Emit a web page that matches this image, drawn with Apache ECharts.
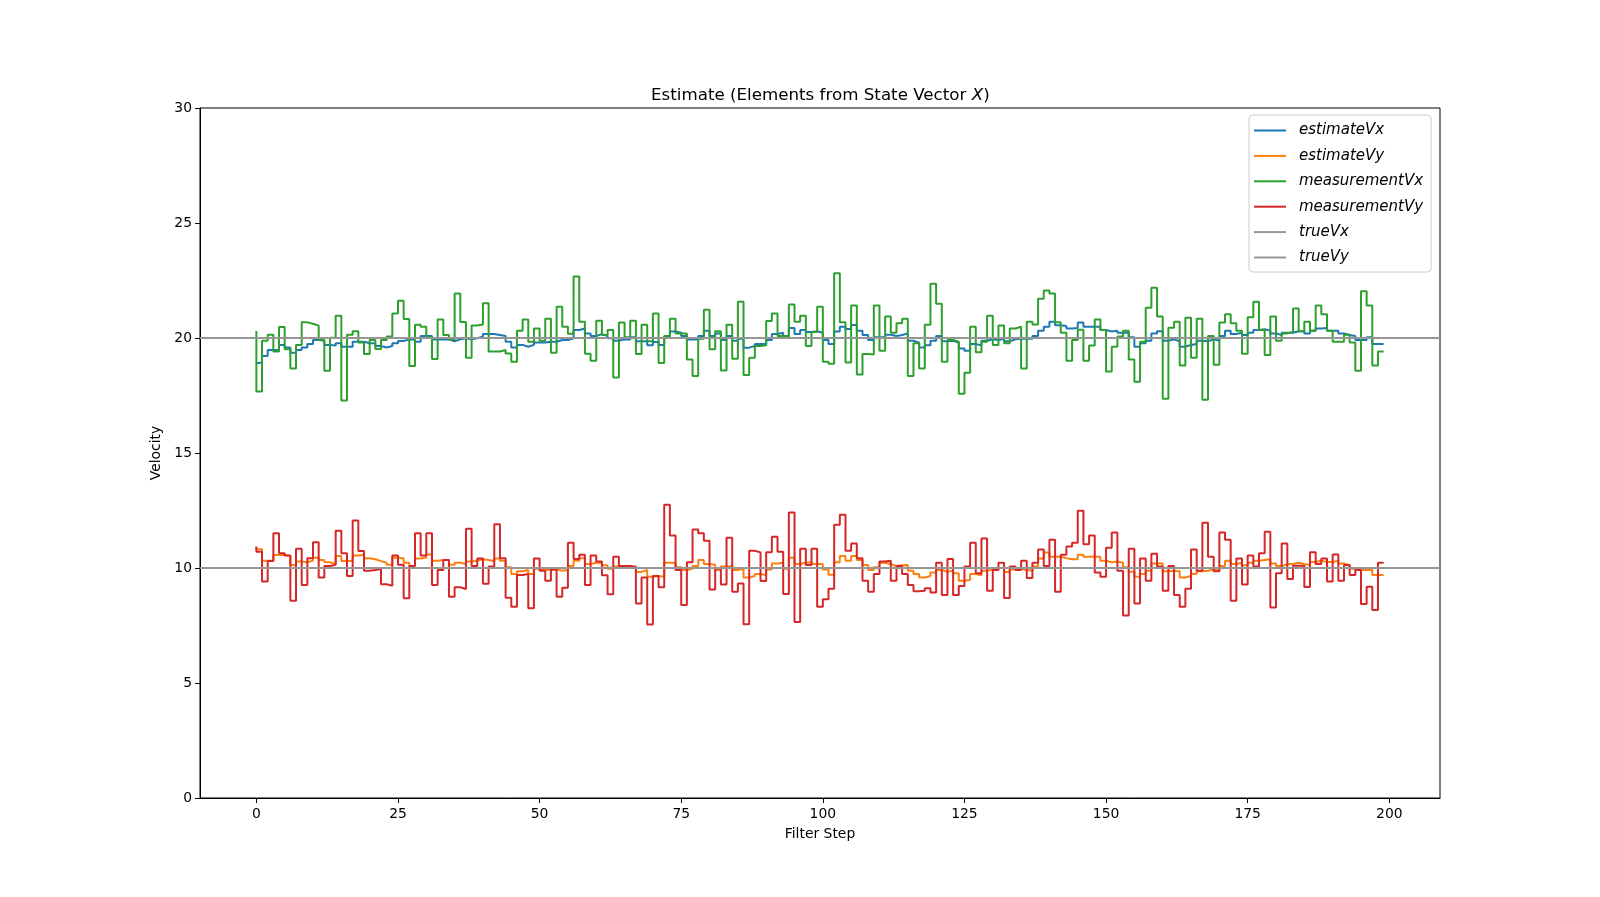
<!DOCTYPE html>
<html>
<head>
<meta charset="utf-8">
<script src="https://cdn.jsdelivr.net/npm/echarts@6/dist/echarts.min.js"></script>
<style>
  html, body { margin: 0; padding: 0; background: #fff; }
  #chart { width: 1600px; height: 897px; }
</style>
</head>
<body>
<div id="chart"></div>
<script>
// values, one per filter step (0..199)
const estimateVx = [18.9,
  18.93, 19.22, 19.48, 19.48, 19.70, 19.59, 19.36, 19.48, 19.59, 19.74,
  19.91, 19.88, 19.70, 19.67, 19.77, 19.62, 19.62, 19.84, 19.84, 19.77,
  19.77, 19.65, 19.59, 19.65, 19.77, 19.87, 19.94, 19.94, 19.84, 20.09,
  20.09, 19.94, 19.94, 19.94, 19.86, 19.94, 19.99, 19.94, 19.99, 20.07,
  20.17, 20.17, 20.13, 20.09, 19.84, 19.59, 19.70, 19.62, 19.70, 19.80,
  19.80, 19.84, 19.84, 19.91, 19.91, 19.99, 20.35, 20.41, 20.20, 20.09,
  20.17, 20.09, 19.99, 19.88, 19.94, 19.94, 20.03, 19.86, 19.86, 19.68,
  19.83, 19.70, 20.06, 20.28, 20.23, 20.09, 19.94, 19.94, 20.09, 20.32,
  20.09, 20.20, 19.91, 20.09, 19.88, 19.97, 19.58, 19.65, 19.74, 19.74,
  19.91, 20.17, 20.23, 20.09, 20.43, 20.17, 20.35, 20.26, 20.29, 20.23,
  19.91, 19.74, 20.28, 20.49, 20.39, 20.57, 20.32, 20.13, 19.91, 20.03,
  20.03, 20.14, 20.09, 20.13, 20.20, 19.88, 19.80, 19.59, 19.68, 19.88,
  20.09, 19.86, 19.88, 19.80, 19.54, 19.45, 19.74, 19.68, 19.88, 19.94,
  19.91, 19.97, 19.86, 19.94, 19.97, 19.97, 19.97, 20.09, 20.32, 20.49,
  20.71, 20.55, 20.52, 20.41, 20.43, 20.67, 20.49, 20.49, 20.49, 20.35,
  20.28, 20.32, 20.23, 20.23, 20.03, 19.62, 19.77, 19.88, 20.20, 20.29,
  19.88, 19.94, 19.86, 19.62, 19.70, 19.74, 19.88, 19.86, 19.94, 19.88,
  20.09, 20.32, 20.17, 20.23, 20.13, 20.23, 20.35, 20.38, 20.32, 20.20,
  20.13, 20.23, 20.23, 20.29, 20.29, 20.20, 20.32, 20.41, 20.43, 20.32,
  20.32, 20.20, 20.13, 20.09, 19.91, 19.91, 20.03, 19.74, 19.74];

const estimateVy = [10.9,
  10.81, 10.32, 10.32, 10.57, 10.57, 10.52, 10.13, 10.28, 10.25, 10.32,
  10.45, 10.35, 10.25, 10.17, 10.52, 10.30, 10.30, 10.54, 10.58, 10.42,
  10.38, 10.30, 10.23, 10.14, 10.45, 10.42, 10.23, 10.09, 10.41, 10.46,
  10.59, 10.32, 10.35, 10.35, 10.14, 10.23, 10.17, 10.28, 10.32, 10.38,
  10.35, 10.29, 10.41, 10.32, 10.03, 9.74, 9.86, 9.91, 9.74, 9.97,
  9.91, 9.91, 9.94, 9.88, 9.91, 10.09, 10.32, 10.42, 10.17, 10.23,
  10.23, 10.12, 9.97, 10.06, 10.03, 10.06, 10.03, 9.83, 9.91, 9.62,
  9.65, 9.62, 10.23, 10.23, 10.03, 9.91, 9.97, 10.09, 10.35, 10.17,
  10.14, 9.91, 10.06, 10.09, 9.91, 9.97, 9.59, 9.65, 9.74, 9.68,
  9.94, 10.20, 10.23, 9.97, 10.45, 10.17, 10.23, 10.26, 10.17, 10.17,
  9.94, 9.71, 10.25, 10.52, 10.32, 10.52, 10.35, 10.13, 9.91, 10.03,
  10.23, 10.17, 10.09, 10.12, 10.13, 9.88, 9.74, 9.59, 9.65, 9.80,
  9.91, 9.84, 9.88, 9.77, 9.45, 9.48, 9.74, 9.68, 9.88, 9.94,
  9.91, 10.00, 9.83, 9.94, 9.97, 9.91, 9.88, 10.06, 10.41, 10.67,
  10.49, 10.49, 10.43, 10.38, 10.38, 10.58, 10.49, 10.49, 10.49, 10.32,
  10.25, 10.28, 10.23, 10.03, 9.84, 9.62, 9.74, 9.88, 10.20, 10.20,
  9.86, 9.88, 9.86, 9.59, 9.65, 9.74, 9.86, 9.88, 9.94, 9.88,
  10.09, 10.32, 10.17, 10.23, 10.12, 10.23, 10.32, 10.35, 10.38, 10.20,
  10.09, 10.17, 10.17, 10.23, 10.17, 10.13, 10.26, 10.32, 10.26, 10.26,
  10.32, 10.20, 10.12, 9.97, 9.91, 9.91, 9.91, 9.70, 9.70];

const measurementVx = [20.3,
  17.67, 19.88, 20.14, 19.41, 20.48, 19.51, 18.67, 19.70, 20.68, 20.62,
  20.54, 19.91, 18.58, 20.01, 20.97, 17.28, 20.14, 20.29, 19.80, 19.30,
  19.91, 19.52, 19.91, 20.06, 21.07, 21.62, 20.83, 18.78, 20.58, 20.49,
  20.03, 19.09, 20.80, 20.13, 19.94, 21.94, 20.70, 19.14, 20.54, 20.59,
  21.51, 19.41, 19.41, 19.48, 19.33, 18.97, 20.32, 20.80, 19.84, 20.41,
  19.88, 20.84, 19.36, 21.36, 20.49, 20.19, 22.67, 20.71, 19.32, 19.01,
  20.75, 20.13, 20.35, 18.28, 20.67, 20.03, 20.75, 19.30, 20.58, 19.86,
  21.06, 18.91, 20.09, 20.84, 20.20, 20.20, 19.07, 18.35, 19.97, 21.23,
  19.51, 20.29, 18.59, 20.58, 19.10, 21.58, 18.39, 19.14, 19.65, 19.68,
  20.74, 21.07, 20.09, 20.07, 21.46, 20.71, 20.97, 19.65, 20.26, 21.36,
  18.97, 18.88, 22.81, 20.68, 18.93, 21.41, 18.41, 19.30, 19.28, 21.41,
  19.45, 20.93, 20.23, 20.64, 20.84, 18.35, 19.77, 18.67, 20.58, 22.36,
  21.49, 18.97, 19.91, 19.84, 17.58, 18.49, 20.49, 19.38, 19.84, 20.97,
  19.70, 20.54, 19.77, 20.41, 20.49, 18.67, 20.71, 20.59, 21.71, 22.06,
  21.94, 20.68, 20.23, 19.01, 19.91, 20.36, 19.01, 19.67, 20.80, 20.35,
  18.54, 19.62, 20.07, 20.32, 19.07, 18.10, 19.84, 21.32, 22.19, 20.93,
  17.36, 20.45, 20.71, 18.80, 20.88, 19.14, 20.84, 17.32, 20.09, 18.84,
  20.67, 21.03, 20.64, 20.32, 19.32, 20.90, 21.58, 20.35, 19.26, 20.93,
  19.88, 20.20, 20.26, 21.28, 20.29, 20.71, 20.32, 21.41, 21.03, 20.32,
  19.84, 19.84, 20.14, 19.80, 18.58, 22.03, 21.41, 18.80, 19.41];

const measurementVy = [10.93,
  10.71, 9.41, 10.30, 11.51, 10.64, 10.54, 8.58, 10.84, 9.26, 10.42,
  11.12, 9.59, 10.09, 10.14, 11.62, 10.64, 9.65, 12.06, 10.74, 9.88,
  9.91, 9.97, 9.29, 9.23, 10.54, 10.14, 8.68, 10.09, 11.51, 10.54,
  11.51, 9.26, 9.91, 10.35, 8.75, 9.16, 9.09, 11.71, 10.09, 10.41,
  9.32, 10.06, 11.90, 10.42, 8.71, 8.32, 9.70, 9.74, 8.25, 10.41,
  9.88, 9.45, 9.94, 8.75, 9.14, 11.10, 10.39, 10.58, 9.26, 10.54,
  10.28, 9.68, 8.86, 10.49, 10.09, 10.09, 10.06, 8.46, 9.59, 7.54,
  9.65, 9.16, 12.75, 11.41, 9.91, 8.39, 10.25, 11.67, 11.51, 11.19,
  9.07, 9.99, 9.28, 11.32, 8.97, 9.33, 7.55, 10.75, 10.68, 9.43,
  10.68, 11.36, 10.71, 8.87, 12.41, 7.65, 10.84, 10.13, 10.84, 8.32,
  8.64, 9.10, 11.88, 12.32, 10.75, 11.07, 10.42, 9.45, 8.97, 9.74,
  10.28, 10.32, 9.45, 10.09, 9.74, 9.26, 8.99, 9.01, 9.12, 8.93,
  10.23, 8.83, 10.39, 8.83, 9.22, 10.06, 11.10, 9.77, 11.28, 9.01,
  9.91, 10.23, 8.70, 10.06, 9.91, 10.32, 9.57, 10.23, 10.80, 10.09,
  11.23, 8.97, 10.58, 10.93, 11.10, 12.49, 11.03, 11.41, 9.80, 9.62,
  10.88, 11.54, 9.88, 7.93, 10.84, 8.46, 10.41, 9.45, 10.62, 10.06,
  9.01, 10.09, 8.83, 8.32, 9.10, 10.80, 9.88, 11.97, 10.49, 9.86,
  11.54, 11.23, 8.58, 10.41, 9.28, 10.54, 10.06, 10.64, 11.58, 8.28,
  9.77, 11.07, 9.52, 10.10, 10.10, 9.17, 10.68, 10.17, 10.41, 9.41,
  10.59, 9.45, 10.13, 9.70, 9.91, 8.43, 9.19, 8.17, 10.23];

const trueVx = 20;
const trueVy = 10;

const xTicks = [0, 25, 50, 75, 100, 125, 150, 175, 200];

const font = 'DejaVu Sans';
const grey = '#969696';

function pairs(vals) {
  return vals.map((v, i) => [i, v]);
}

function stepSeries(name, color, vals) {
  return {
    name: name,
    type: 'line',
    step: 'start',
    data: pairs(vals),
    showSymbol: false,
    symbol: 'none',
    color: color,
    lineStyle: { color: color, width: 2 },
    silent: true
  };
}

function trueSeries(name, value) {
  return {
    name: name,
    type: 'line',
    data: [],
    symbol: 'none',
    color: grey,
    lineStyle: { color: grey, width: 2 },
    z: 5,
    markLine: {
      silent: true,
      symbol: 'none',
      label: { show: false },
      lineStyle: { color: grey, width: 2, type: 'solid' },
      data: [{ yAxis: value }]
    }
  };
}

const chart = echarts.init(document.getElementById('chart'));
chart.setOption({
  animation: false,
  backgroundColor: '#fff',
  title: {
    text: 'Estimate (Elements from State Vector {x|X})',
    left: 651,
    top: 87,
    padding: 0,
    textStyle: {
      fontFamily: font,
      fontSize: 16.7,
      fontWeight: 'normal',
      color: '#000',
      rich: {
        x: { fontFamily: font, fontSize: 16.7, fontStyle: 'italic', color: '#000' }
      }
    }
  },
  legend: {
    orient: 'vertical',
    left: 1249,
    top: 115,
    padding: [7, 8, 6, 5],
    icon: 'rect',
    itemWidth: 32,
    itemHeight: 2,
    itemGap: 8.4,
    backgroundColor: 'rgba(255,255,255,0.8)',
    borderColor: '#cccccc',
    borderWidth: 1,
    borderRadius: 4,
    textStyle: {
      fontFamily: font,
      fontSize: 15,
      lineHeight: 17,
      fontStyle: 'italic',
      color: '#000',
      padding: [0, 0, 0, 8]
    },
    data: ['estimateVx', 'estimateVy', 'measurementVx', 'measurementVy', 'trueVx', 'trueVy']
  },
  grid: {
    left: 200,
    right: 160,
    top: 108,
    bottom: 99,
    show: true,
    borderColor: '#000',
    borderWidth: 1,
    backgroundColor: 'transparent'
  },
  xAxis: {
    type: 'value',
    min: -9.95,
    max: 208.95,
    name: 'Filter Step',
    nameLocation: 'middle',
    nameGap: 29,
    nameTextStyle: { fontFamily: font, fontSize: 13.9, color: '#000' },
    splitLine: { show: false },
    axisLine: { show: true, onZero: false, lineStyle: { color: '#000', width: 1 } },
    axisTick: { show: true, inside: false, length: 5, lineStyle: { color: '#000' }, customValues: xTicks },
    axisLabel: { fontFamily: font, fontSize: 13.9, color: '#000', margin: 9, customValues: xTicks }
  },
  yAxis: {
    type: 'value',
    min: 0,
    max: 30,
    interval: 5,
    name: 'Velocity',
    nameLocation: 'middle',
    nameGap: 35,
    nameTextStyle: { fontFamily: font, fontSize: 13.9, color: '#000' },
    splitLine: { show: false },
    axisLine: { show: true, onZero: false, lineStyle: { color: '#000', width: 1 } },
    axisTick: { show: true, inside: false, length: 5, lineStyle: { color: '#000' } },
    axisLabel: { fontFamily: font, fontSize: 13.9, color: '#000', margin: 8 }
  },
  series: [
    stepSeries('estimateVx', '#1f77b4', estimateVx),
    stepSeries('estimateVy', '#ff7f0e', estimateVy),
    stepSeries('measurementVx', '#2ca02c', measurementVx),
    stepSeries('measurementVy', '#d62728', measurementVy),
    trueSeries('trueVx', trueVx),
    trueSeries('trueVy', trueVy)
  ]
});
</script>
</body>
</html>
